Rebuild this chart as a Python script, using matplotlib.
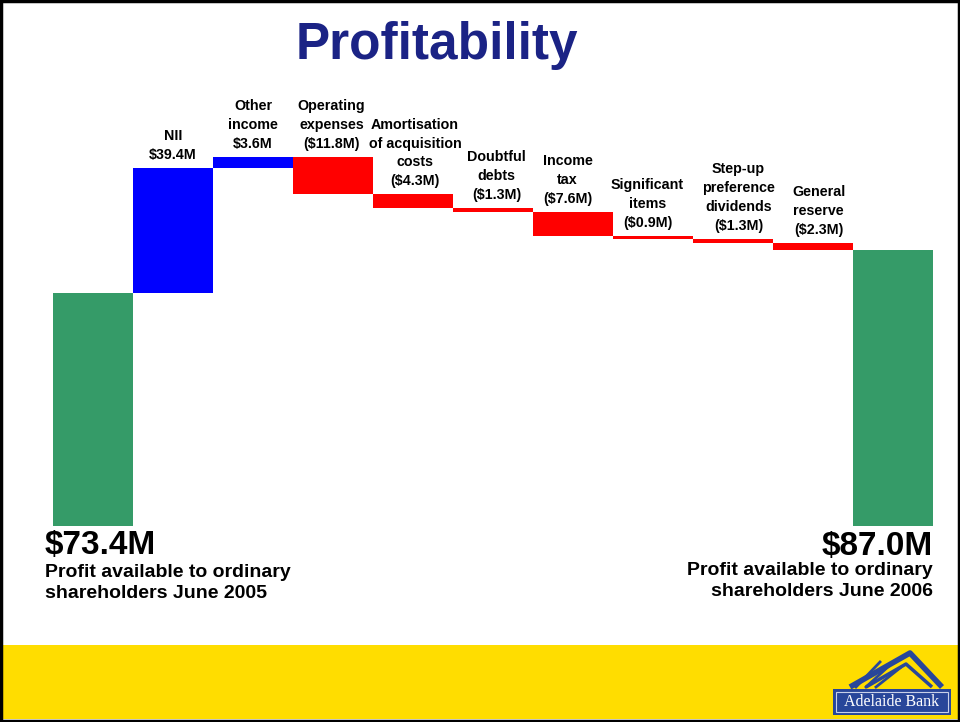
import matplotlib
matplotlib.use("Agg")
import matplotlib.pyplot as plt
from matplotlib.patches import Rectangle
import numpy as np

plt.rcParams['font.family'] = ['Liberation Sans', 'DejaVu Sans']

# waterfall data ($M)
steps = ["Start", "NII", "Other income", "Operating expenses", "Amortisation",
         "Doubtful debts", "Income tax", "Significant items", "Step-up dividends",
         "General reserve", "End"]
values = [73.4, 39.4, 3.6, -11.8, -4.3, -1.3, -7.6, -0.9, -1.3, -2.3, 87.0]
step_labels = ["", "NII\n$39.4M", "Other\nincome\n$3.6M", "Operating\nexpenses\n($11.8M)",
               "Amortisation\nof acquisition\ncosts\n($4.3M)", "Doubtful\ndebts\n($1.3M)",
               "Income\ntax\n($7.6M)", "Significant\nitems\n($0.9M)",
               "Step-up\npreference\ndividends\n($1.3M)", "General\nreserve\n($2.3M)", ""]
# small horizontal nudges of the labels (points)
label_dx = [0, 0, 0, -1, 1.5, 2.5, -4, -4, 4, 4, 0]

GREEN = '#359B68'
BLUE = '#0000FF'
RED = '#FF0000'
NAVY = '#1B2385'
LOGO = '#28469A'

fig = plt.figure(figsize=(9.6, 7.22), dpi=100)

# decoration layer in pixel coordinates
deco = fig.add_axes([0, 0, 1, 1])
deco.set_xlim(0, 960)
deco.set_ylim(722, 0)
deco.axis('off')
deco.add_patch(Rectangle((2, 645), 956, 74, color='#FFDD00', lw=0))
deco.add_patch(Rectangle((1, 1), 958, 720, fill=False, ec='black', lw=2.5))

# logo
deco.add_patch(Rectangle((833, 689), 118, 26, color=LOGO, lw=0))
deco.add_patch(Rectangle((836, 692), 112, 20, fill=False, ec='#C8D0E8', lw=0.8))
deco.text(892, 702, "Adelaide Bank", color='white', fontsize=11.5,
          family=['Liberation Serif', 'DejaVu Serif'], ha='center', va='center')
deco.plot([850, 910, 942], [687, 653, 687], color=LOGO, lw=4, solid_capstyle='butt')
deco.plot([866, 906, 932], [687, 664, 687], color=LOGO, lw=2.5, solid_capstyle='butt')
for dx in [0, 10, 20]:
    deco.plot([856 + dx, 880 + dx], [687, 662 + dx * 0.3], color=LOGO, lw=2)

# waterfall axes
ax = fig.add_axes([0, 0, 1, 1])
ax.patch.set_alpha(0)
ax.axis('off')
px_per = 233 / 73.4
ax.set_xlim(-0.5 - 53 / 80, -0.5 + 907 / 80)
ax.set_ylim(-(722 - 526) / px_per, 526 / px_per)

level = 0.0
for i, v in enumerate(values):
    if i == 0 or i == len(values) - 1:
        bottom, height, col = 0, v, GREEN
        level = v
    else:
        if v >= 0:
            bottom, height, col = level, v, BLUE
        else:
            bottom, height, col = level + v, -v, RED
        level += v
    ax.bar(i, height, bottom=bottom, width=1.0, color=col, lw=0)
    if step_labels[i]:
        ax.annotate(step_labels[i], (i, bottom + height), xytext=(label_dx[i], 4),
                    textcoords='offset points', ha='center', va='bottom',
                    fontsize=10.3, fontweight='bold', linespacing=1.45)

# title and totals
fig.text(437 / 960, 1 - 45 / 722, "Profitability", color=NAVY, fontsize=37,
         fontweight='bold', ha='center', va='center',
         family=['Liberation Sans Narrow', 'Liberation Sans', 'DejaVu Sans'])
fig.text(45 / 960, 1 - 554 / 722, "$73.4M", fontsize=24, fontweight='bold',
         ha='left', va='baseline')
fig.text(45 / 960, 1 - 564 / 722, "Profit available to ordinary\nshareholders June 2005",
         fontsize=14, fontweight='bold', ha='left', va='top', linespacing=1.3)
fig.text(933 / 960, 1 - 555 / 722, "$87.0M", fontsize=24, fontweight='bold',
         ha='right', va='baseline')
fig.text(933 / 960, 1 - 562 / 722, "Profit available to ordinary\nshareholders June 2006",
         fontsize=14, fontweight='bold', ha='right', va='top', linespacing=1.3,
         multialignment='right')

fig.savefig('out.png', dpi=100)
